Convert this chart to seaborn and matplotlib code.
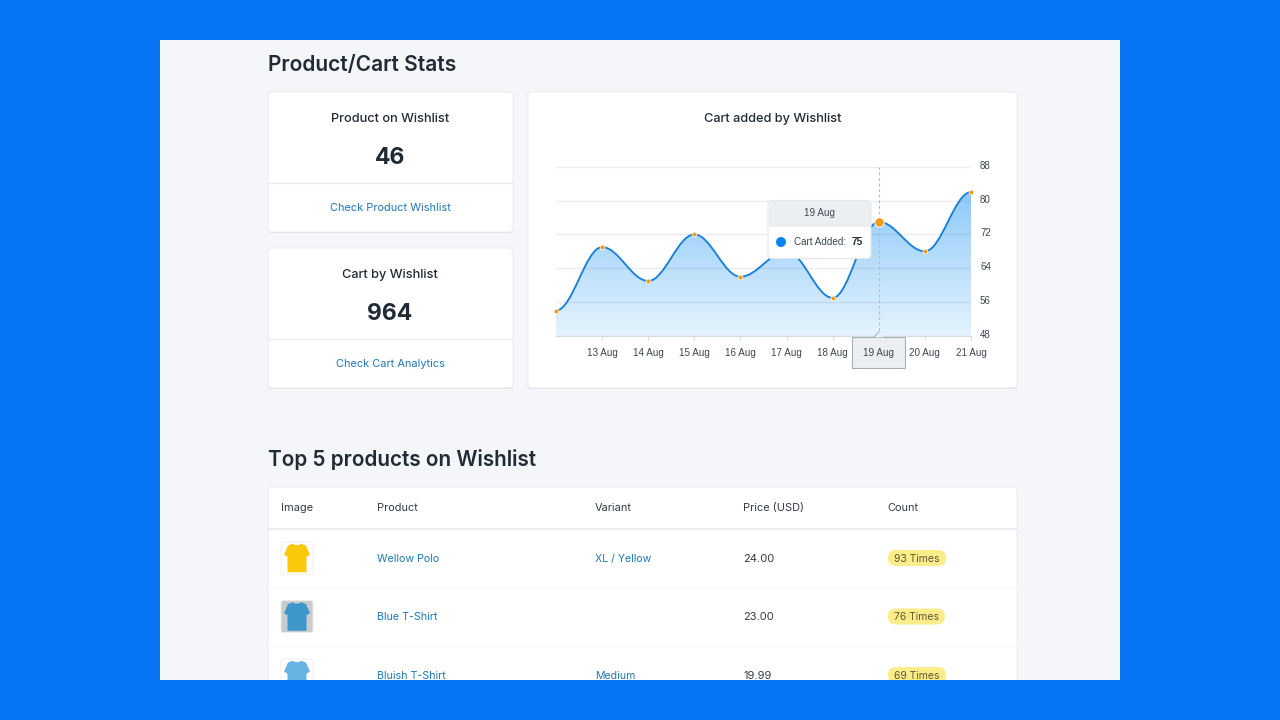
import numpy as np
import matplotlib
matplotlib.use("Agg")
import matplotlib.pyplot as plt
from matplotlib.patches import FancyBboxPatch, PathPatch, Polygon, Rectangle, Circle
from matplotlib.path import Path
from matplotlib.transforms import ScaledTranslation
import seaborn as sns

# ---- data ----
dates = ["12 Aug", "13 Aug", "14 Aug", "15 Aug", "16 Aug", "17 Aug", "18 Aug", "19 Aug", "20 Aug", "21 Aug"]
cart_added = [54, 69, 61, 72, 62, 68, 57, 75, 68, 82]
y_ticks = [48, 56, 64, 72, 80, 88]
highlight = "19 Aug"
products = ["Wellow Polo", "Blue T-Shirt", "Bluish T-Shirt"]
variants = ["XL / Yellow", "", "Medium"]
prices = ["24.00", "23.00", "19.99"]
counts = ["93 Times", "76 Times", "69 Times"]
headers = ["Image", "Product", "Variant", "Price (USD)", "Count"]

sns.set_theme(style="white")
plt.rcParams["font.family"] = ["Inter", "DejaVu Sans"]

BLUE = "#0875F4"; PAGE = "#F4F6F9"; INK = "#212B36"; LINK = "#1F78B8"; BORDER = "#DFE3E8"

fig = plt.figure(figsize=(12.8, 7.2), dpi=100, facecolor=BLUE)

def layer(z):
    a = fig.add_axes([0, 0, 1, 1], zorder=z)
    a.set_xlim(0, 1280); a.set_ylim(720, 0); a.axis("off")
    a.patch.set_alpha(0)
    return a

bg = layer(0)
top = layer(2)

bg.add_patch(Rectangle((160, 40), 960, 640, fc=PAGE, ec="none"))

def card(x0, y0, x1, y1):
    bg.add_patch(FancyBboxPatch((x0, y0 + 1.0), x1 - x0, y1 - y0, boxstyle="round,pad=0,rounding_size=3",
                                fc="#D5DAE0", ec="none", alpha=0.8))
    bg.add_patch(FancyBboxPatch((x0, y0), x1 - x0, y1 - y0, boxstyle="round,pad=0,rounding_size=3",
                                fc="white", ec="#E9EBEF", lw=0.7))

def txt(a, x, y, s, size=9, color=INK, ha="left", weight="normal", **kw):
    # y is the middle of the capitals, so descenders do not shift the line
    a.text(x, y + 0.5 * size, s, fontsize=size, color=color, ha=ha, va="baseline", fontweight=weight, **kw)

# headings
txt(bg, 268, 63.5, "Product/Cart Stats", 15.1, INK, weight="semibold")
txt(bg, 268, 458.5, "Top 5 products on Wishlist", 14.9, INK, weight="semibold")

# stat cards
for y0, title, val, link in [(92, "Product on Wishlist", "46", "Check Product Wishlist"),
                             (248, "Cart by Wishlist", "964", "Check Cart Analytics")]:
    card(268, y0, 513, y0 + 140)
    txt(bg, 390, y0 + 25.5, title, 9.2, INK, ha="center", weight="medium")
    txt(bg, 390, y0 + 63.5, val, 16.5, INK, ha="center", weight="bold")
    bg.plot([268, 513], [y0 + 91, y0 + 91], color="#E9EBEF", lw=0.8)
    txt(bg, 390, y0 + 115.5, link, 7.9, LINK, ha="center")

# chart card
card(528, 92, 1017, 388)
txt(bg, 773, 117, "Cart added by Wishlist", 9.2, INK, ha="center", weight="medium")

# ---- chart ----
ax = fig.add_axes([556 / 1280, 1 - 336 / 720, (971 - 556) / 1280, (336 - 166.7) / 720], zorder=1)
ax.patch.set_alpha(0)
pos = np.arange(len(dates))
handle = 0.36
verts = [(pos[0], cart_added[0])]
codes = [Path.MOVETO]
for i in range(len(pos) - 1):
    verts += [(pos[i] + handle, cart_added[i]), (pos[i + 1] - handle, cart_added[i + 1]), (pos[i + 1], cart_added[i + 1])]
    codes += [Path.CURVE4] * 3
ax.set_xlim(pos[0], pos[-1]); ax.set_ylim(y_ticks[0], y_ticks[-1])

area_path = Path(verts + [(pos[-1], y_ticks[0]), (pos[0], y_ticks[0]), (pos[0], cart_added[0])],
                 codes + [Path.LINETO, Path.LINETO, Path.LINETO])
clip = PathPatch(area_path, fc="none", ec="none", transform=ax.transData)
ax.add_patch(clip)
cmap = matplotlib.colors.LinearSegmentedColormap.from_list("a", ["#8DCAF9", "#E5F3FE"])
im = ax.imshow(np.linspace(0, 1, 200).reshape(-1, 1), extent=(pos[0], pos[-1], y_ticks[0], max(cart_added)),
               origin="upper", aspect="auto", cmap=cmap, zorder=1)
im.set_clip_path(clip)
ax.set_xlim(pos[0], pos[-1]); ax.set_ylim(y_ticks[0], y_ticks[-1])

ax.add_patch(PathPatch(Path(verts, codes), fc="none", ec="#1A80D6", lw=1.35, zorder=3, capstyle="round"))
sns.scatterplot(x=pos, y=cart_added, ax=ax, s=12, color="#F59A12", edgecolor="white", linewidth=0.5,
                zorder=4, clip_on=False, legend=False)
hi = dates.index(highlight)
sns.scatterplot(x=[pos[hi]], y=[cart_added[hi]], ax=ax, s=46, color="#F59A12", edgecolor="white", linewidth=0.7,
                zorder=5, clip_on=False, legend=False)
ax.axvline(pos[hi], color="#B4BCC4", lw=0.8, ls=(0, (2.5, 2.5)), zorder=2)

ax.set_yticks(y_ticks)
ax.set_yticklabels([str(v) for v in y_ticks], fontsize=7.0, color="#3C4650", family="Liberation Sans")
ax.yaxis.tick_right()
ax.set_xticks(pos[1:])
# the highlighted date is drawn by the crosshair label on top of the axis
ax.set_xticklabels(["" if d == highlight else d for d in dates[1:]], fontsize=7.1, color="#3C4650",
                   family="Liberation Sans")
ax.tick_params(axis="y", length=0, pad=6.5)
ax.tick_params(axis="x", length=3, width=0.7, color="#D5DBE0", pad=6, bottom=True)
shift = ScaledTranslation(0, 2 / 100, fig.dpi_scale_trans)
for lab in ax.get_yticklabels():
    lab.set_transform(lab.get_transform() + shift)
ax.grid(axis="y", color="#5A6470", alpha=0.11, lw=1, zorder=2)
ax.grid(axis="x", visible=False)
ax.set_axisbelow(False)
for s in ["left", "right", "top"]:
    ax.spines[s].set_visible(False)
ax.spines["bottom"].set_color("#D5DDE3"); ax.spines["bottom"].set_linewidth(0.9)
ax.set_xlabel(""); ax.set_ylabel("")

# x crosshair label
top.add_patch(Rectangle((852, 337), 53, 31, fc="#ECEFF1", ec="#A4B0B8", lw=0.8))
top.add_patch(Polygon([(874, 337.3), (879, 332), (884, 337.3)], fc="#ECEFF1", ec="none"))
top.plot([874, 879], [337, 332], color="#A4B0B8", lw=0.7)
txt(top, 878.5, 352, highlight, 7.1, "#3C4650", ha="center", family="Liberation Sans")

# tooltip
top.add_patch(FancyBboxPatch((768, 200.5), 103, 58, boxstyle="round,pad=0,rounding_size=3",
                             fc="white", ec="#E3E6EA", lw=0.8))
top.add_patch(Rectangle((768.5, 201), 102, 25.5, fc="#ECEFF1", ec="none"))
txt(top, 819.5, 212.5, highlight, 7.1, "#3C4650", ha="center", family="Liberation Sans")
top.add_patch(Circle((781, 242), 5, fc="#0A84F5", ec="none"))
txt(top, 793.5, 241.5, "Cart Added:", 7.1, "#3C4650", family="Liberation Sans")
txt(top, 851.5, 241.5, str(cart_added[hi]), 7.3, "#263238", weight="bold", family="Liberation Sans")

# ---- table ----
card(268, 487, 1017, 720)
cols = [281, 377, 595, 743, 887]
for x, h in zip(cols, headers):
    txt(bg, x, 507.5, h, 7.9, "#333B44")
bg.plot([268, 1017], [529, 529], color="#E3E6EA", lw=1.1)
for y in [587, 645.5]:
    bg.plot([268, 1017], [y, y], color="#F6F7F8", lw=0.8)

shirt = np.array([(-4, -15.5), (-2, -14), (2, -14), (4, -15.5), (9, -13.5), (13, -3.5), (9.5, -1.5), (9.5, 15.5),
                  (-9.5, 15.5), (-9.5, -1.5), (-13, -3.5), (-9, -13.5)])
row_y = [558, 616.5, 675]
thumb_bg = ["white", "#C9CBCC", "white"]
shirt_col = ["#FBC80A", "#3E97CB", "#66B2E2"]
badge_w = [58, 57, 58]
for i, y in enumerate(row_y):
    bg.add_patch(FancyBboxPatch((281, y - 16), 32, 32, boxstyle="round,pad=0,rounding_size=2",
                                fc=thumb_bg[i], ec="#ECEEF0", lw=0.6))
    bg.add_patch(Polygon(shirt * [1, 0.92] + [297, y], fc=shirt_col[i], ec="none"))
    txt(bg, 377, y, products[i], 7.7, LINK)
    if variants[i]:
        txt(bg, 595, y, variants[i], 7.6, LINK)
    txt(bg, 743, y, prices[i], 8.0, "#333B44")
    bg.add_patch(FancyBboxPatch((888, y - 8), badge_w[i], 16, boxstyle="round,pad=0,rounding_size=8",
                                fc="#FCEC8A", ec="none"))
    txt(bg, 916.5, y, counts[i], 7.5, "#5F5A30", ha="center")

# page frame trim
bg.add_patch(Rectangle((0, 680), 1280, 40, fc=BLUE, ec="none", zorder=20))

fig.savefig("out.png", dpi=100, facecolor=BLUE)
